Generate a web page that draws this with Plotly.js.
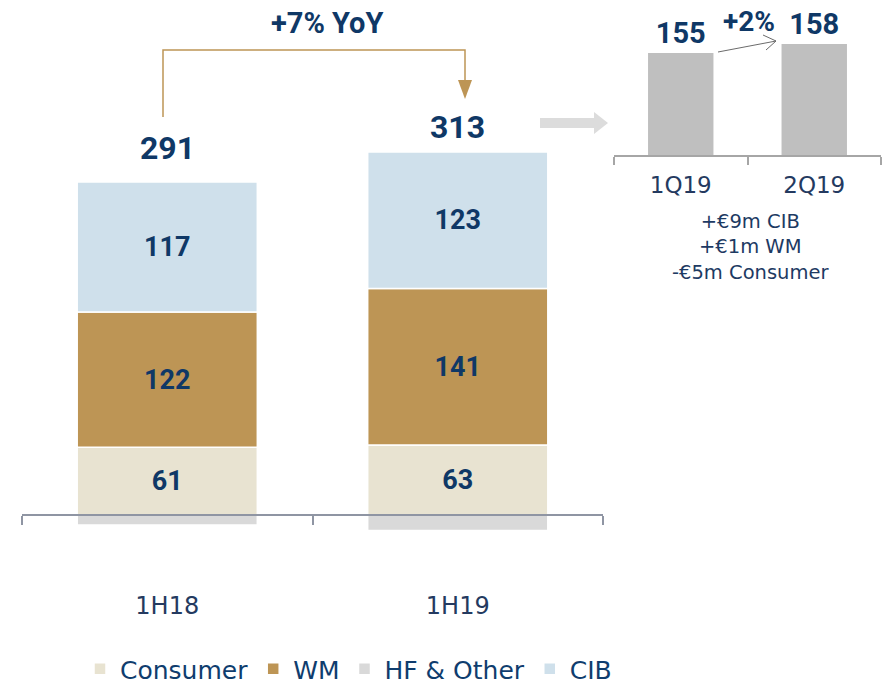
<!DOCTYPE html>
<html><head><meta charset="utf-8">
<script src="https://cdn.plot.ly/plotly-3.0.1.min.js"></script>
<style>html,body{margin:0;padding:0;background:#fff}#chart{width:885px;height:692px}</style>
</head><body><div id="chart"></div>
<script>
// Main chart data
const periods = ['1H18', '1H19'];
const consumer = [61, 63];
const wm = [122, 141];
const hfOther = [-9, -14];
const cib = [117, 123];
const totals = [291, 313];
const yoyLabel = '+7% YoY';
// Inset data
const quarters = ['1Q19', '2Q19'];
const quarterVals = [155, 158];
const qoqLabel = '+2%';
const drivers = ['+€9m CIB', '+€1m WM', '-€5m Consumer'];

const W = 885, H = 692;
const px = x => x / W;
const py = y => 1 - y / H;

const NAVY = '#0f3866';
const numFont = {family: 'Liberation Sans Narrow, Roboto, Arial, sans-serif', weight: 'bold', color: NAVY};
const txtFont = {family: 'DejaVu Sans, sans-serif', color: '#1d3a63'};
const GOLD = '#bd9555';

function seg(name, vals, color, showText) {
  return {
    type: 'bar', name: name, x: periods, y: vals, xaxis: 'x', yaxis: 'y',
    width: 0.62,
    marker: {color: color, line: {color: '#ffffff', width: 1.5}},
    text: showText ? vals.map(String) : undefined,
    textposition: showText ? 'inside' : 'none',
    insidetextanchor: 'middle',
    constraintext: 'none',
    textfont: Object.assign({size: 27}, numFont),
    hoverinfo: 'skip'
  };
}

const traces = [
  seg('Consumer', consumer, '#e8e3d1', true),
  seg('WM', wm, GOLD, true),
  seg('HF & Other', hfOther, '#d9d9d9', false),
  seg('CIB', cib, '#cfe0eb', true),
  {
    type: 'bar', name: 'Quarter', x: quarters, y: quarterVals, xaxis: 'x2', yaxis: 'y2',
    width: 0.49, marker: {color: '#bfbfbf'}, showlegend: false, hoverinfo: 'skip',
    text: quarterVals.map(String), textposition: 'outside', cliponaxis: false,
    textfont: Object.assign({size: 29}, numFont)
  }
];

const annotations = [];
// totals above stacked bars
const totalShift = [13, 4];
periods.forEach((p, i) => {
  const top = consumer[i] + wm[i] + cib[i];
  annotations.push({
    x: p, y: top, xref: 'x', yref: 'y', text: String(totals[i]),
    showarrow: false, yanchor: 'bottom', yshift: totalShift[i],
    font: Object.assign({size: 32}, numFont)
  });
});
annotations.push({
  x: px(327), y: py(23), xref: 'paper', yref: 'paper', text: yoyLabel,
  xanchor: 'center', yanchor: 'middle',
  showarrow: false, font: Object.assign({size: 29}, numFont)
});
annotations.push({
  x: px(749), y: py(21), xref: 'paper', yref: 'paper', text: qoqLabel,
  xanchor: 'center', yanchor: 'middle',
  showarrow: false, font: Object.assign({size: 28}, numFont)
});
annotations.push({
  x: px(750), y: py(247), xref: 'paper', yref: 'paper', text: drivers.join('<br>'),
  xanchor: 'center', yanchor: 'middle',
  showarrow: false, align: 'center',
  font: Object.assign({size: 19.5}, txtFont, {color: '#1d3a63'})
});

const shapes = [
  // gold bracket
  {type: 'path', xref: 'paper', yref: 'paper',
   path: `M ${px(163)} ${py(117)} L ${px(163)} ${py(50)} L ${px(465)} ${py(50)} L ${px(465)} ${py(82)}`,
   line: {color: GOLD, width: 1.5}},
  {type: 'path', xref: 'paper', yref: 'paper',
   path: `M ${px(458)} ${py(80)} L ${px(472)} ${py(80)} L ${px(465)} ${py(99)} Z`,
   fillcolor: GOLD, line: {color: GOLD, width: 0}},
  // grey block arrow
  {type: 'path', xref: 'paper', yref: 'paper',
   path: `M ${px(540)} ${py(118)} L ${px(594)} ${py(118)} L ${px(594)} ${py(112)} L ${px(608)} ${py(123)} L ${px(594)} ${py(134)} L ${px(594)} ${py(128)} L ${px(540)} ${py(128)} Z`,
   fillcolor: '#dcdcdc', line: {width: 0}},
  // thin arrow 1Q19 -> 2Q19
  {type: 'path', xref: 'paper', yref: 'paper',
   path: `M ${px(718)} ${py(52)} L ${px(776)} ${py(41)}`,
   line: {color: '#6b6b6b', width: 1}},
  {type: 'path', xref: 'paper', yref: 'paper',
   path: `M ${px(763)} ${py(35)} L ${px(776)} ${py(41)} L ${px(766)} ${py(50)}`,
   line: {color: '#6b6b6b', width: 1}}
];

const layout = {
  width: W, height: H,
  margin: {l: 0, r: 0, t: 0, b: 0, autoexpand: false},
  paper_bgcolor: '#ffffff', plot_bgcolor: 'rgba(0,0,0,0)',
  barmode: 'relative',
  showlegend: true,
  legend: {
    orientation: 'h', x: px(80), xanchor: 'left', y: 0, yanchor: 'bottom',
    font: Object.assign({size: 25}, txtFont, {color: '#0f3d6e'}),
    itemclick: false, traceorder: 'normal', bgcolor: 'rgba(0,0,0,0)'
  },
  xaxis: {
    domain: [px(22), px(603)], anchor: 'free', position: py(515),
    type: 'category', range: [-0.5, 1.5],
    showline: true, linecolor: '#8f95a3', linewidth: 2,
    ticks: 'outside', tickson: 'boundaries', ticklen: 9, tickcolor: '#8f95a3', tickwidth: 2,
    showgrid: false, zeroline: false,
    ticklabelstandoff: 69,
    tickfont: Object.assign({size: 24}, txtFont, {color: '#243a60'})
  },
  yaxis: {
    domain: [py(560), py(90)], range: [-40.5, 382.9],
    visible: false, showgrid: false, zeroline: false, fixedrange: true
  },
  xaxis2: {
    domain: [px(614), px(881)], anchor: 'y2',
    type: 'category', range: [-0.5, 1.5],
    showline: true, linecolor: '#a6a6a6', linewidth: 2,
    ticks: 'outside', tickson: 'boundaries', ticklen: 8, tickcolor: '#a6a6a6', tickwidth: 2,
    showgrid: false, zeroline: false,
    ticklabelstandoff: 8,
    tickfont: Object.assign({size: 23}, txtFont, {color: '#243a60'})
  },
  yaxis2: {
    domain: [py(155), py(20)], range: [121, 166],
    visible: false, showgrid: false, zeroline: false
  },
  annotations: annotations,
  shapes: shapes
};

Plotly.newPlot('chart', traces, layout, {staticPlot: true, displayModeBar: false});
</script></body></html>
